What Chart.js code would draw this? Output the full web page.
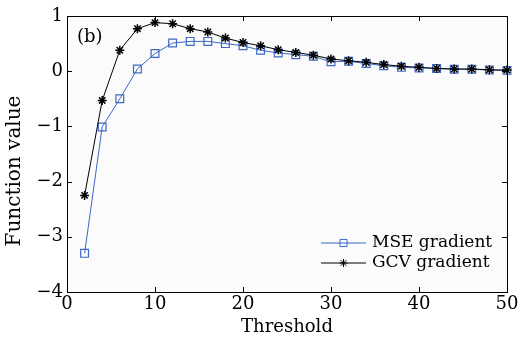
<!DOCTYPE html>
<html>
<head>
<meta charset="utf-8">
<script src="https://cdn.jsdelivr.net/npm/chart.js@4.4.1/dist/chart.umd.min.js"></script>
<style>
  html, body { margin: 0; padding: 0; background: #fff; }
  #wrap { width: 530px; height: 340px; }
</style>
</head>
<body>
<div id="wrap"><canvas id="chart"></canvas></div>
<script>
// thresholds (x)
const thresholds = [2, 4, 6, 8, 10, 12, 14, 16, 18, 20, 22, 24, 26, 28, 30, 32, 34, 36, 38, 40, 42, 44, 46, 48, 50];
// MSE gradient (blue squares)
const mseValues = [-3.3, -1.01, -0.5, 0.04, 0.32, 0.51, 0.54, 0.54, 0.5, 0.46, 0.38, 0.33, 0.3, 0.27, 0.17, 0.18, 0.14, 0.1, 0.07, 0.06, 0.05, 0.035, 0.035, 0.02, 0.015];
// GCV gradient (black stars)
const gcvValues = [-2.25, -0.53, 0.38, 0.77, 0.88, 0.86, 0.77, 0.71, 0.6, 0.52, 0.46, 0.39, 0.34, 0.29, 0.22, 0.19, 0.16, 0.12, 0.09, 0.07, 0.05, 0.04, 0.04, 0.025, 0.02];

const xTicks = [0, 10, 20, 30, 40, 50];
const yTicks = [-4, -3, -2, -1, 0, 1];

const FONT = "'DejaVu Serif', serif";
const blue = "#3d68c4";

const toPoints = (vals) => thresholds.map((x, i) => ({ x: x, y: vals[i] }));

// frame, inward ticks, labels and legend
const framePlugin = {
  id: "frame",
  beforeDatasetsDraw(chart) {
    const { ctx, chartArea: a } = chart;
    ctx.save();
    ctx.fillStyle = "#fbfbfb";
    ctx.fillRect(a.left, a.top, a.right - a.left, a.bottom - a.top);
    ctx.restore();
  },
  afterDraw(chart) {
    const { ctx, chartArea: a, scales } = chart;
    ctx.save();
    ctx.strokeStyle = "#000";
    ctx.lineWidth = 1;
    ctx.strokeRect(a.left + 0.5, a.top + 0.5, a.right - a.left, a.bottom - a.top);
    const len = 5;
    ctx.beginPath();
    xTicks.forEach((v) => {
      const px = Math.round(scales.x.getPixelForValue(v)) + 0.5;
      ctx.moveTo(px, a.bottom); ctx.lineTo(px, a.bottom - len);
      ctx.moveTo(px, a.top); ctx.lineTo(px, a.top + len);
    });
    yTicks.forEach((v) => {
      const py = Math.round(scales.y.getPixelForValue(v)) + 0.5;
      ctx.moveTo(a.left, py); ctx.lineTo(a.left + len, py);
      ctx.moveTo(a.right, py); ctx.lineTo(a.right - len, py);
    });
    ctx.stroke();

    ctx.fillStyle = "#000";
    ctx.font = "18px " + FONT;
    ctx.textBaseline = "middle";
    ctx.fillText("(b)", a.left + 10, a.top + 21);

    // y axis title (sits a bit below the axis centre in the original)
    ctx.save();
    ctx.translate(15, 171);
    ctx.rotate(-Math.PI / 2);
    ctx.font = "20px " + FONT;
    ctx.textAlign = "center";
    ctx.fillText("Function value", 0, 0);
    ctx.restore();

    // legend
    ctx.font = "17px " + FONT;
    const rows = [
      { label: "MSE gradient", color: blue, style: "rect", y: 243 },
      { label: "GCV gradient", color: "#000", style: "star", y: 263 }
    ];
    rows.forEach((r) => {
      ctx.strokeStyle = r.color;
      ctx.lineWidth = 1;
      ctx.beginPath();
      ctx.moveTo(321, r.y); ctx.lineTo(366, r.y);
      ctx.stroke();
      ctx.fillStyle = "rgba(0,0,0,0)";
      Chart.helpers.drawPoint(ctx, { pointStyle: r.style, radius: r.style === "rect" ? 5 : 4, borderWidth: 1 }, 343.5, r.y);
      ctx.fillStyle = "#000";
      ctx.fillText(r.label, 372, r.y);
    });
    ctx.restore();
  }
};

new Chart(document.getElementById("chart"), {
  type: "line",
  data: {
    datasets: [
      {
        label: "MSE gradient",
        data: toPoints(mseValues),
        borderColor: blue,
        backgroundColor: "rgba(0,0,0,0)",
        borderWidth: 1,
        pointStyle: "rect",
        pointRadius: 5.5,
        pointBorderWidth: 1.2,
        pointBorderColor: blue,
        pointBackgroundColor: "rgba(0,0,0,0)",
        clip: false,
        order: 2
      },
      {
        label: "GCV gradient",
        data: toPoints(gcvValues),
        borderColor: "#000",
        backgroundColor: "#000",
        borderWidth: 1,
        pointStyle: "star",
        pointRadius: 4.5,
        pointBorderWidth: 1.5,
        pointBorderColor: "#000",
        clip: false,
        order: 1
      }
    ]
  },
  options: {
    responsive: true,
    maintainAspectRatio: false,
    animation: false,
    layout: { padding: { top: 16, right: 23, left: 0, bottom: 0 } },
    plugins: { legend: { display: false }, tooltip: { enabled: false } },
    scales: {
      x: {
        type: "linear",
        min: 0,
        max: 50,
        afterBuildTicks: (s) => { s.ticks = xTicks.map((v) => ({ value: v })); },
        afterFit: (s) => { s.height = 48; },
        grid: { display: false, drawTicks: false },
        border: { display: false },
        ticks: { color: "#000", font: { family: FONT, size: 18 }, padding: 2, maxRotation: 0 },
        title: { display: true, text: "Threshold", color: "#000", font: { family: FONT, size: 18 }, padding: { top: 0, bottom: 2 } }
      },
      y: {
        min: -4,
        max: 1,
        afterBuildTicks: (s) => { s.ticks = yTicks.map((v) => ({ value: v })); },
        afterFit: (s) => { s.width = 67; },
        grid: { display: false, drawTicks: false },
        border: { display: false },
        ticks: {
          color: "#000",
          font: { family: FONT, size: 18 },
          padding: 4,
          callback: (v) => (v < 0 ? "\u2212" + Math.abs(v) : String(v))
        },
        title: { display: false }
      }
    }
  },
  plugins: [framePlugin]
});
</script>
</body>
</html>
